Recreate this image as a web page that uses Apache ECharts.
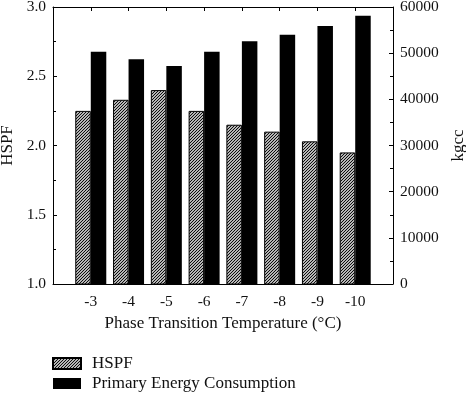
<!DOCTYPE html>
<html><head><meta charset="utf-8">
<script src="https://cdn.jsdelivr.net/npm/echarts@6/dist/echarts.min.js"></script>
<style>html,body{margin:0;padding:0;background:#fff}#c{width:466px;height:394px}</style>
</head><body><div id="c"></div>
<script>
const categories = ['-3','-4','-5','-6','-7','-8','-9','-10'];
const hspf = [2.25, 2.33, 2.40, 2.25, 2.15, 2.10, 2.03, 1.95];
const energy = [50300, 48700, 47200, 50300, 52600, 54000, 55900, 58100];
const leftTicks = [1.0, 3.0, 0.5];
const rightTicks = [0, 60000, 10000];

// padded categories (empty slot at each end)
const cats = [''].concat(categories, ['']);
const pad = a => [null].concat(a, [null]);

// hatch pattern
const T = 3;
const tile = document.createElement('canvas');
tile.width = T; tile.height = T;
const g = tile.getContext('2d');
g.fillStyle = '#fff'; g.fillRect(0,0,T,T);
g.strokeStyle = '#000'; g.lineWidth = 1.1;
g.beginPath();
g.moveTo(-1,T+1); g.lineTo(T+1,-1);
g.moveTo(-1,1); g.lineTo(1,-1);
g.moveTo(T-1,T+1); g.lineTo(T+1,T-1);
g.stroke();
const hatch = {image: tile, repeat: 'repeat'};

const font = 'Liberation Serif';
const txt = '#111';
const tickFs = 15.5, titleFs = 17;
const chart = echarts.init(document.getElementById('c'), null, {renderer:'canvas'});
const axisLine = {show:true, lineStyle:{color:'#000', width:1}};
chart.setOption({
  animation:false,
  textStyle:{fontFamily:font},
  grid:{left:53, right:73, top:7, bottom:110, containLabel:false, outerBoundsMode:'none'},
  legend:{
    orient:'vertical', left:52, top:355, padding:0, itemWidth:28, itemHeight:11, itemGap:3,
    height:45,
    textStyle:{fontFamily:font, fontSize:titleFs, color:txt, padding:[0,0,0,6]},
    data:[{name:'HSPF', icon:'rect'},{name:'Primary Energy Consumption', icon:'rect'}]
  },
  xAxis:[{
    type:'category', data:cats, boundaryGap:false, position:'bottom',
    axisLine:axisLine, axisTick:{show:true, inside:true, length:4, lineStyle:{color:'#000'}},
    axisLabel:{fontFamily:font, fontSize:tickFs, color:txt, margin:10},
    name:'Phase Transition Temperature (°C)', nameLocation:'middle', nameGap:30,
    nameTextStyle:{fontFamily:font, fontSize:titleFs, color:txt},
    splitLine:{show:false}
  },{
    type:'category', data:cats, boundaryGap:false, position:'top',
    axisLine:axisLine, axisTick:{show:true, inside:true, length:4, lineStyle:{color:'#000'}},
    axisLabel:{show:false}, splitLine:{show:false}
  }],
  yAxis:[{
    type:'value', min:leftTicks[0], max:leftTicks[1], interval:leftTicks[2], position:'left',
    axisLine:axisLine, axisTick:{show:true, inside:true, length:4, lineStyle:{color:'#000'}},
    minorTick:{show:true, splitNumber:2, length:3, lineStyle:{color:'#000'}},
    axisLabel:{fontFamily:font, fontSize:tickFs, color:txt, margin:7, formatter:v=>v.toFixed(1)},
    splitLine:{show:false},
    name:'HSPF', nameLocation:'middle', nameGap:32, nameRotate:90,
    nameTextStyle:{fontFamily:font, fontSize:titleFs, color:txt}
  },{
    type:'value', min:rightTicks[0], max:rightTicks[1], interval:rightTicks[2], position:'right',
    axisLine:axisLine, axisTick:{show:true, inside:true, length:4, lineStyle:{color:'#000'}},
    minorTick:{show:true, splitNumber:2, length:3, lineStyle:{color:'#000'}},
    axisLabel:{fontFamily:font, fontSize:tickFs, color:txt, margin:7, formatter:v=>String(v)},
    splitLine:{show:false},
    name:'kgcc', nameLocation:'middle', nameGap:55, nameRotate:90,
    nameTextStyle:{fontFamily:font, fontSize:titleFs, color:txt}
  }],
  series:[{
    name:'HSPF', type:'bar', xAxisIndex:0, yAxisIndex:0, data:pad(hspf),
    barWidth:15.5, barGap:'0%',
    itemStyle:{color:hatch, borderColor:'#000', borderWidth:1}
  },{
    name:'Primary Energy Consumption', type:'bar', xAxisIndex:0, yAxisIndex:1, data:pad(energy),
    barWidth:15.5, barGap:'0%',
    itemStyle:{color:'#000', borderColor:'#000', borderWidth:0}
  }]
});
</script></body></html>
